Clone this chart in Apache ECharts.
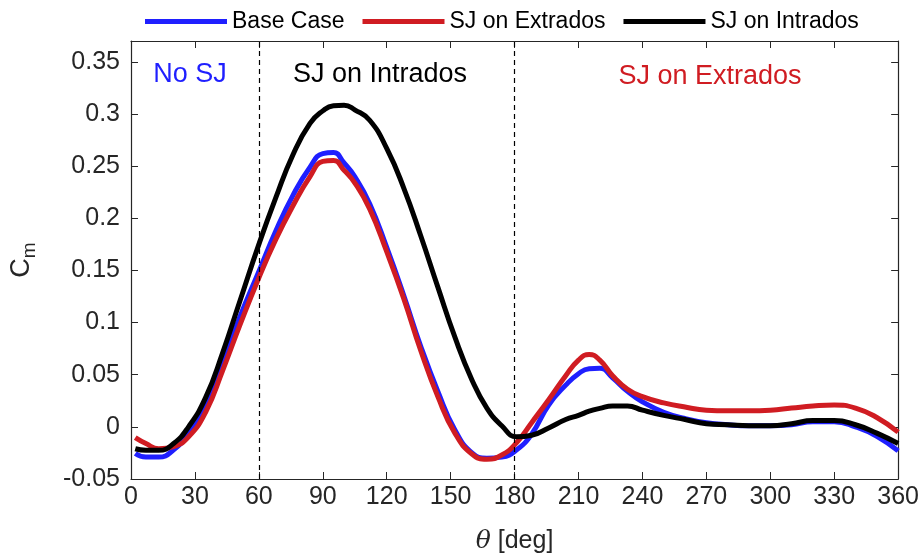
<!DOCTYPE html>
<html>
<head>
<meta charset="utf-8">
<script src="https://cdn.jsdelivr.net/npm/echarts@6/dist/echarts.min.js"></script>
<style>
  html, body { margin: 0; background: #fff; }
  #chart { width: 922px; height: 560px; }
</style>
</head>
<body>
<div id="chart"></div>
<script>
// theta [deg] sample positions
const theta = [2, 7, 13, 20, 27, 35, 43, 51, 60, 68, 76, 84, 90, 95, 100, 105, 112, 120, 128, 136, 144, 152, 160, 167, 174, 181,
  188, 196, 204, 210, 215, 220, 226, 233, 240, 250, 260, 270, 280, 290, 300, 310, 320, 330, 340, 350, 360];

const baseCase = [-0.0256, -0.029, -0.029, -0.022, -0.0064, 0.022, 0.061, 0.105, 0.149, 0.188, 0.222, 0.249, 0.262, 0.263, 0.253,
  0.240, 0.214, 0.172, 0.126, 0.077, 0.034, -0.003, -0.025, -0.030, -0.029, -0.022,
  -0.007, 0.021, 0.040, 0.051, 0.0558, 0.0562, 0.047, 0.034, 0.024, 0.014, 0.008, 0.004, 0.002, 0.001, 0.001, 0.002,
  0.005, 0.005, 0.000, -0.009, -0.023];

const sjExtrados = [-0.0103, -0.016, -0.021, -0.019, -0.0096, 0.014, 0.054, 0.097, 0.143, 0.180, 0.212, 0.240, 0.2545, 0.2555, 0.246,
  0.234, 0.209, 0.168, 0.123, 0.073, 0.029, -0.006, -0.026, -0.031, -0.027, -0.015,
  0.004, 0.026, 0.049, 0.064, 0.0695, 0.064, 0.049, 0.036, 0.029, 0.023, 0.019, 0.016, 0.0155, 0.0155, 0.016, 0.018,
  0.020, 0.021, 0.018, 0.009, -0.005];

const sjIntrados = [-0.021, -0.0225, -0.0225, -0.016, 0.000, 0.028, 0.071, 0.120, 0.175, 0.220, 0.261, 0.291, 0.303, 0.308, 0.3085,
  0.304, 0.294, 0.267, 0.229, 0.183, 0.134, 0.086, 0.045, 0.018, 0.001, -0.0095,
  -0.008, -0.001, 0.007, 0.011, 0.015, 0.0177, 0.020, 0.020, 0.016, 0.011, 0.007, 0.003, 0.002, 0.001, 0.001, 0.003,
  0.006, 0.006, 0.002, -0.006, -0.016];

const yTicks = [-0.05, 0, 0.05, 0.1, 0.15, 0.2, 0.25, 0.3, 0.35];
const dividers = [60, 180];
const regionLabels = ["No SJ", "SJ on Intrados", "SJ on Extrados"];

const font = "Liberation Sans, Arial, Helvetica, sans-serif";
const axisColor = "#262626";

const chart = echarts.init(document.getElementById("chart"));

const mkSeries = (name, values, color, extra) => Object.assign({
  name: name,
  type: "line",
  data: theta.map((t, i) => [t, values[i]]),
  smooth: 0.5,
  showSymbol: false,
  lineStyle: { width: 5, color: color, join: "round" },
  itemStyle: { color: color },
}, extra || {});

const frameAxis = {
  axisLine: { show: true, onZero: false, lineStyle: { color: axisColor, width: 1.2 } },
  axisTick: { inside: true, length: 7, lineStyle: { color: axisColor } },
  splitLine: { show: false },
};

const regionText = (text, x, y, color) => ({
  type: "text", x: x, y: y,
  style: { text: text, fontSize: 27, fill: color, fontFamily: font, align: "center", verticalAlign: "middle" },
});

const option = {
  animation: false,
  grid: { left: 129, right: 23, top: 41, bottom: 81 },
  legend: {
    top: 5,
    left: 140,
    icon: "rect",
    itemWidth: 82,
    itemHeight: 5,
    itemGap: 18,
    textStyle: { fontSize: 23, color: "#000", fontFamily: font },
    data: ["Base Case", "SJ on Extrados", "SJ on Intrados"],
  },
  xAxis: [
    Object.assign({}, frameAxis, {
      type: "value",
      min: 0,
      max: 360,
      interval: 30,
      name: "{it|θ} [deg]",
      nameLocation: "middle",
      nameGap: 50,
      nameTextStyle: {
        fontSize: 25, color: axisColor, fontFamily: font,
        rich: { it: { fontStyle: "italic", fontSize: 25, fontFamily: "DejaVu Serif, serif", color: axisColor } },
      },
      axisLabel: { fontSize: 25, color: axisColor, margin: 6, fontFamily: font },
    }),
    Object.assign({}, frameAxis, {
      type: "value",
      position: "top",
      min: 0,
      max: 360,
      interval: 30,
      axisLabel: { show: false },
    }),
  ],
  yAxis: [
    Object.assign({}, frameAxis, {
      type: "value",
      min: -0.05,
      max: 0.37,
      interval: 0.05,
      name: "C{sub|m}",
      nameLocation: "middle",
      nameGap: 92,
      nameRotate: 90,
      nameTextStyle: {
        fontSize: 27, color: axisColor, fontFamily: font,
        rich: { sub: { fontSize: 19, color: axisColor, fontFamily: font, padding: [16, 0, 0, 0] } },
      },
      axisLabel: {
        fontSize: 25, color: axisColor, margin: 11, fontFamily: font,
        formatter: (v) => {
          const t = yTicks.find((k) => Math.abs(k - v) < 1e-6);
          return t === undefined ? "" : String(t);
        },
      },
    }),
    Object.assign({}, frameAxis, {
      type: "value",
      position: "right",
      min: -0.05,
      max: 0.37,
      interval: 0.05,
      axisLabel: { show: false },
    }),
  ],
  graphic: [
    regionText(regionLabels[0], 190, 75, "#1f1fff"),
    regionText(regionLabels[1], 380, 75, "#000"),
    regionText(regionLabels[2], 710, 77, "#d01c22"),
  ],
  series: [
    mkSeries("Base Case", baseCase, "#1f1fff", {
      markLine: {
        silent: true,
        symbol: "none",
        label: { show: false },
        lineStyle: { type: [5, 4], color: "#000", width: 1.2 },
        data: dividers.map((d) => ({ xAxis: d })),
      },
    }),
    mkSeries("SJ on Extrados", sjExtrados, "#d01c22"),
    mkSeries("SJ on Intrados", sjIntrados, "#000000"),
  ],
};

chart.setOption(option);
</script>
</body>
</html>
